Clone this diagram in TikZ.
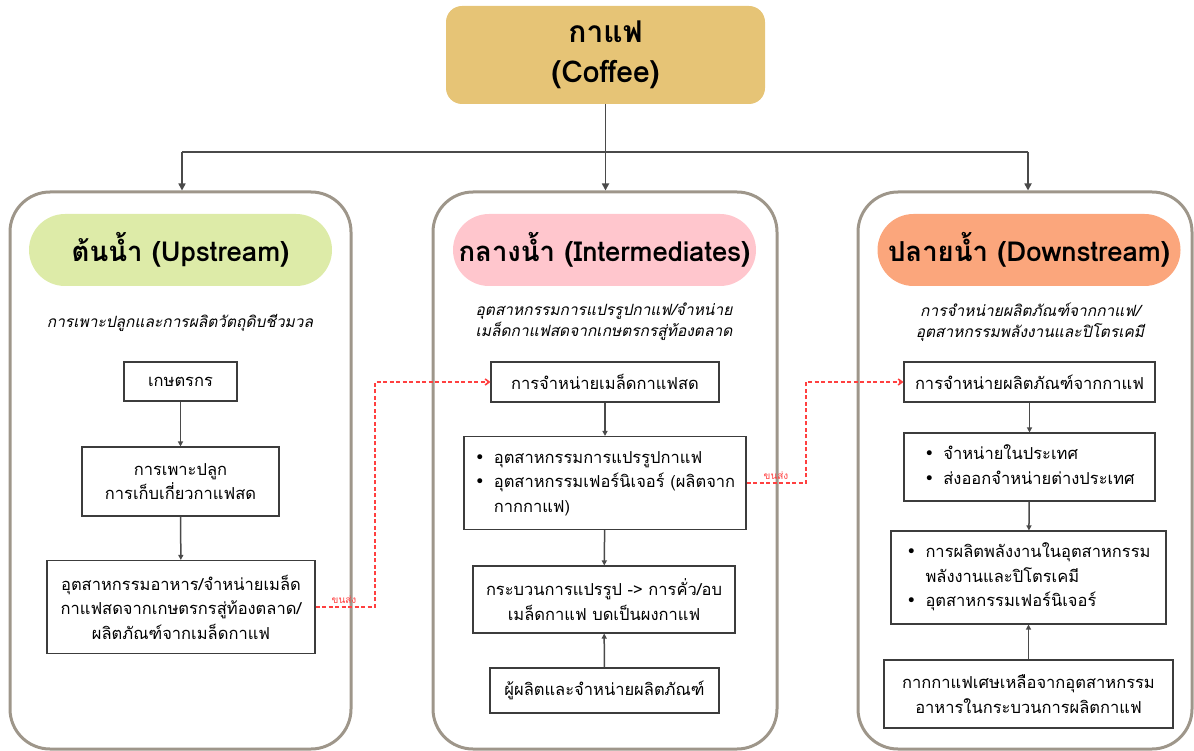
\documentclass[tikz,border=0pt]{standalone}
\usepackage{fontspec}
\setmainfont[Script=Thai]{Loma}
\newfontfamily\dejavu{DejaVu Sans}
\usetikzlibrary{arrows.meta}
\definecolor{topfill}{HTML}{E6C476}
\definecolor{greenfill}{HTML}{DDEBA8}
\definecolor{pinkfill}{HTML}{FFC6CD}
\definecolor{orangefill}{HTML}{FBA67C}
\definecolor{colborder}{HTML}{9E968A}
\definecolor{boxline}{HTML}{3C3C3C}
\definecolor{arrowgray}{HTML}{4A4A4A}
\definecolor{transred}{HTML}{FF4040}
\newcommand{\bul}{{\dejavu\fontsize{17}{17}\selectfont •}}
\begin{document}
\begin{tikzpicture}[x=1pt,y=-1pt,
  topbox/.style={fill=topfill, rounded corners=16pt, minimum width=319pt, minimum height=98pt, align=center, font=\bfseries\fontsize{30}{40}\selectfont, inner sep=0},
  column/.style={draw=colborder, line width=3pt, rounded corners=40pt, minimum height=557pt, inner sep=0},
  pill/.style={rounded corners=36pt, minimum height=72pt, minimum width=303pt, font=\bfseries\fontsize{27.5}{30}\selectfont, inner sep=0},
  subtitle/.style={align=center, font=\itshape\fontsize{15.5}{21}\selectfont, inner sep=0},
  stepbox/.style={draw=boxline, line width=1.1pt, fill=white, align=center, font=\fontsize{16.5}{24.5}\selectfont, inner sep=0},
  link/.style={draw=arrowgray, line width=1.6pt},
  linkarrow/.style={link, -{Triangle[length=7pt,width=7pt]}},
  smallarrow/.style={draw=arrowgray, line width=1.5pt, -{Triangle[length=5pt,width=5pt]}},
  transport/.style={draw=transred, line width=1.6pt, dash pattern=on 4pt off 2.5pt, -{Straight Barb[length=4pt,width=6pt]}},
  translabel/.style={text=transred, font=\fontsize{10}{11}\selectfont, inner sep=1pt, anchor=south}
]
\useasboundingbox (0,0) rectangle (1194,751);

% top node
\node[topbox] (coffee) at (605.5,55) {กาแฟ\\(Coffee)};

% columns
\node[column, minimum width=341pt] (colL) at (180.5,470.5) {};
\node[column, minimum width=344pt] (colM) at (605,470.5) {};
\node[column, minimum width=334pt] (colR) at (1025,470.5) {};

% top connectors
\coordinate (jL) at (182,152);
\coordinate (jM) at (605.5,152);
\coordinate (jR) at (1028,152);
\draw[link] (coffee.south) -- (jM);
\draw[link] (jL) -- (jR);
\draw[linkarrow] (jL) -- (jL |- colL.north);
\draw[linkarrow] (jM) -- (jM |- colM.north);
\draw[linkarrow] (jR) -- (jR |- colR.north);

% header pills
\node[pill, fill=greenfill] (hL) at (180.5,250) {ต้นน้ำ (Upstream)};
\node[pill, fill=pinkfill] (hM) at (604.5,250) {กลางน้ำ (Intermediates)};
\node[pill, fill=orangefill] (hR) at (1029,250) {ปลายน้ำ (Downstream)};

% subtitles
\node[subtitle] (sL) at (180,323) {การเพาะปลูกและการผลิตวัตถุดิบชีวมวล};
\node[subtitle] (sM) at (604,322) {อุตสาหกรรมการแปรรูปกาแฟ/จำหน่าย\\เมล็ดกาแฟสดจากเกษตรกรสู่ท้องตลาด};
\node[subtitle] (sR) at (1030,322) {การจำหน่ายผลิตภัณฑ์จากกาแฟ/\\อุตสาหกรรมพลังงานและปิโตรเคมี};

% left column boxes
\node[stepbox, minimum width=113pt, minimum height=39pt] (L1) at (180.5,381.5) {เกษตรกร};
\node[stepbox, minimum width=197pt, minimum height=69pt] (L2) at (180.5,481.5) {การเพาะปลูก\\การเก็บเกี่ยวกาแฟสด};
\node[stepbox, minimum width=268pt, minimum height=93pt] (L3) at (181,607) {อุตสาหกรรมอาหาร/จำหน่ายเมล็ด\\กาแฟสดจากเกษตรกรสู่ท้องตลาด/\\ผลิตภัณฑ์จากเมล็ดกาแฟ};
\draw[smallarrow] (L1) -- (L2);
\draw[smallarrow] (L2) -- (L3);

% middle column boxes
\node[stepbox, minimum width=228pt, minimum height=40pt] (M1) at (605,382) {การจำหน่ายเมล็ดกาแฟสด};
\node[stepbox, minimum width=282pt, minimum height=93pt] (M2) at (605,483) {\begin{tabular}{@{}l@{\hspace{9pt}}l@{}}\bul & อุตสาหกรรมการแปรรูปกาแฟ\\ \bul & อุตสาหกรรมเฟอร์นิเจอร์ (ผลิตจาก\\ & กากกาแฟ)\end{tabular}};
\node[stepbox, minimum width=262pt, minimum height=67pt] (M3) at (604,599.5) {กระบวนการแปรรูป -> การคั่ว/อบ\\เมล็ดกาแฟ บดเป็นผงกาแฟ};
\node[stepbox, minimum width=229pt, minimum height=45pt] (M4) at (604.5,690.5) {ผู้ผลิตและจำหน่ายผลิตภัณฑ์};
\draw[smallarrow] (M1) -- (M2);
\draw[smallarrow] (M2) -- (M3);
\draw[smallarrow] (M4) -- (M3);

% right column boxes
\node[stepbox, minimum width=251pt, minimum height=40pt] (R1) at (1029.5,382) {การจำหน่ายผลิตภัณฑ์จากกาแฟ};
\node[stepbox, minimum width=251pt, minimum height=68pt] (R2) at (1029.5,467) {\begin{tabular}{@{}l@{\hspace{9pt}}l@{}}\bul & จำหน่ายในประเทศ\\ \bul & ส่งออกจำหน่ายต่างประเทศ\end{tabular}};
\node[stepbox, minimum width=275pt, minimum height=93pt] (R3) at (1028.5,577.5) {\begin{tabular}{@{}l@{\hspace{9pt}}l@{}}\bul & การผลิตพลังงานในอุตสาหกรรม\\ & พลังงานและปิโตรเคมี\\ \bul & อุตสาหกรรมเฟอร์นิเจอร์\end{tabular}};
\node[stepbox, minimum width=289pt, minimum height=68pt] (R4) at (1028.5,694) {กากกาแฟเศษเหลือจากอุตสาหกรรม\\อาหารในกระบวนการผลิตกาแฟ};
\draw[smallarrow] (R1) -- (R2);
\draw[smallarrow] (R2) -- (R3);
\draw[smallarrow] (R4) -- (R3);

% transport links
\coordinate (t1) at (375,0);
\coordinate (t2) at (806,0);
\draw[transport] (L3.east) -- (t1 |- L3.east) -- (t1 |- M1.west) -- (M1.west);
\draw[transport] (M2.east) -- (t2 |- M2.east) -- (t2 |- R1.west) -- (R1.west);
\node[translabel] (lab1) at (344,605) {ขนส่ง};
\node[translabel] (lab2) at (776,481) {ขนส่ง};
\end{tikzpicture}
\end{document}
